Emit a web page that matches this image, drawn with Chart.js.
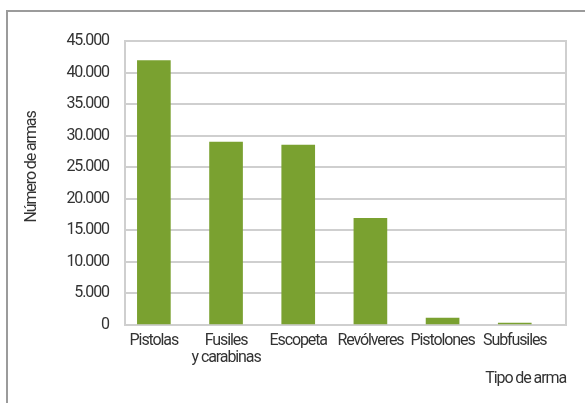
<!DOCTYPE html>
<html>
<head>
<meta charset="utf-8">
<script src="https://cdn.jsdelivr.net/npm/chart.js@4.4.1/dist/chart.umd.min.js"></script>
<style>
  html, body { margin: 0; padding: 0; background: #fff; overflow: hidden; }
  #wrap { position: relative; width: 585px; height: 403px; }
  #frame { position: absolute; left: 6px; top: 10px; width: 620px; height: 420px;
           border-top: 2px solid #9b9b9b; border-left: 2px solid #9b9b9b; box-sizing: border-box; }
  canvas { position: absolute; left: 0; top: 0; }
</style>
</head>
<body>
<div id="wrap">
  <div id="frame"></div>
  <canvas id="c" width="585" height="403"></canvas>
</div>
<script>
const categories = ['Pistolas', ['Fusiles', 'y carabinas'], 'Escopeta', 'Revólveres', 'Pistolones', 'Subfusiles'];
const values = [41900, 29000, 28500, 16900, 1100, 320];
const yTicks = [0, 5000, 10000, 15000, 20000, 25000, 30000, 35000, 40000, 45000];
const yTitle = 'Número de armas';
const xTitle = 'Tipo de arma';

const FONT = "Roboto, 'Liberation Sans', sans-serif";
const TXT = '#333333';
const GRID = '#cfcfcf';
const SPACING = '-1.1px';

const fmt = v => v.toLocaleString('de-DE');

const narrow = {
  id: 'narrowText',
  beforeInit(chart) { chart.ctx.letterSpacing = SPACING; },
  beforeUpdate(chart) { chart.ctx.letterSpacing = SPACING; },
  beforeLayout(chart) { chart.ctx.letterSpacing = SPACING; },
  beforeDraw(chart) { chart.ctx.letterSpacing = SPACING; }
};

const frame = {
  id: 'plotFrame',
  beforeDatasetsDraw(chart) {
    const a = chart.chartArea, ctx = chart.ctx;
    ctx.save();
    ctx.strokeStyle = GRID;
    ctx.lineWidth = 2;
    ctx.strokeRect(a.left, a.top, a.right - a.left, a.bottom - a.top);
    ctx.restore();
  },
  afterDraw(chart) {
    const a = chart.chartArea, ctx = chart.ctx;
    ctx.save();
    // y-axis title, placed slightly above the plot centre as in the source
    ctx.translate(a.left - 93, (a.top + a.bottom) / 2 - 16);
    ctx.rotate(-Math.PI / 2);
    ctx.fillStyle = TXT;
    ctx.font = "16px " + FONT;
    ctx.textAlign = 'center';
    ctx.textBaseline = 'middle';
    ctx.fillText(yTitle, 0, 0);
    ctx.restore();
  }
};

new Chart(document.getElementById('c'), {
  type: 'bar',
  data: {
    datasets: [{
      data: values.map((v, i) => ({ x: i, y: v })),
      backgroundColor: '#7aa130',
      borderWidth: 0,
      barThickness: 33
    }]
  },
  plugins: [narrow, frame],
  options: {
    responsive: false,
    animation: false,
    layout: { padding: { left: 20, right: 19, top: 41, bottom: 10 } },
    plugins: { legend: { display: false }, tooltip: { enabled: false } },
    scales: {
      x: {
        type: 'linear',
        offset: false,
        min: -0.4,
        max: 5.71,
        afterBuildTicks(s) { s.ticks = categories.map((c, i) => ({ value: i })); },
        afterFit(s) { s.height = 68; },
        grid: { display: false, drawTicks: false },
        border: { display: false },
        ticks: {
          autoSkip: false,
          maxRotation: 0,
          padding: 7,
          color: TXT,
          font: { family: FONT, size: 16, lineHeight: 1.1 },
          callback: v => categories[v]
        },
        title: {
          display: true, text: xTitle, align: 'end',
          color: TXT, font: { family: FONT, size: 16 },
          padding: { top: 2, bottom: 4 }
        }
      },
      y: {
        min: 0, max: 45000,
        afterBuildTicks(s) { s.ticks = yTicks.map(v => ({ value: v })); },
        afterFit(s) { s.width = 105; },
        grid: { color: GRID, lineWidth: 2, drawTicks: false },
        border: { display: false },
        ticks: {
          padding: 16,
          color: TXT,
          font: { family: FONT, size: 16 },
          callback: v => fmt(v)
        }
      }
    }
  }
});
</script>
</body>
</html>
